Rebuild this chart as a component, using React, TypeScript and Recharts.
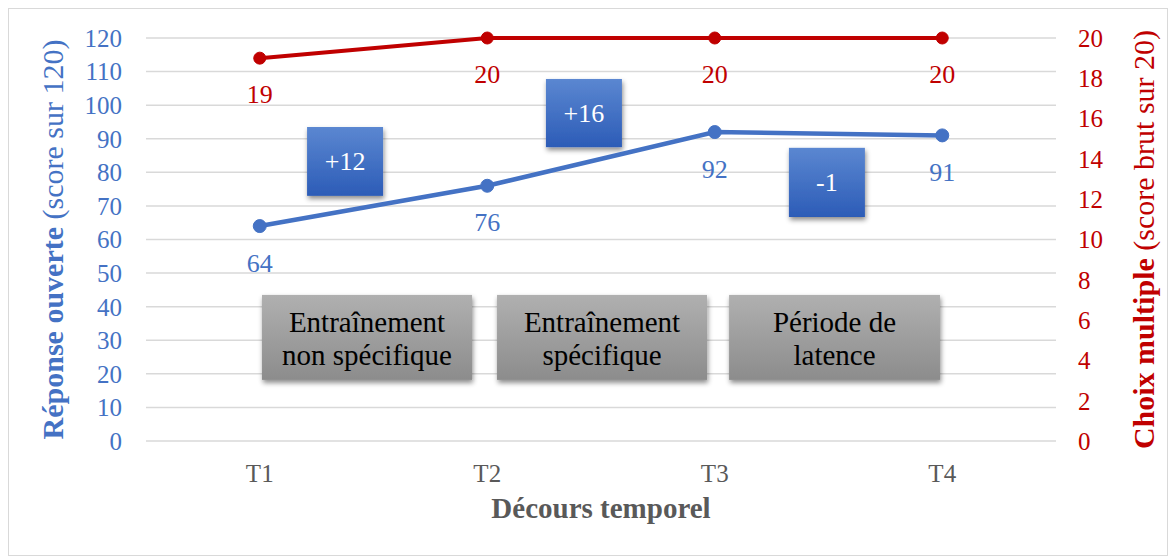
import React from 'react';
import { LineChart, Line, XAxis, YAxis, CartesianGrid, ReferenceArea } from 'recharts';

// ---- data ----
const categories = ['T1', 'T2', 'T3', 'T4'];
const openScores = [64, 76, 92, 91];
const mcqScores = [19, 20, 20, 20];
const leftTicks = [0, 10, 20, 30, 40, 50, 60, 70, 80, 90, 100, 110, 120];
const rightTicks = [0, 2, 4, 6, 8, 10, 12, 14, 16, 18, 20];
const gainLabels = ['+12', '+16', '-1'];
const phaseLabels = [
  ['Entraînement', 'non spécifique'],
  ['Entraînement', 'spécifique'],
  ['Période de', 'latence'],
];

const data = categories.map((t, i) => ({ t, open: openScores[i], mcq: mcqScores[i] }));

// ---- layout (positions in axis units; x: 0 = T1 ... 3 = T4) ----
const gainX = [[0.208, 0.542], [1.258, 1.592], [2.326, 2.66]];
const gainY = [[73.0, 93.5], [87.5, 107.8], [66.7, 87.3]];
const phaseX = [[0.01, 0.933], [1.043, 1.966], [2.063, 2.99]];
const phaseY = [18.2, 43.5];

const BLUE = '#4472C4';
const RED = '#C00000';
const GREY = '#595959';
const FONT = '"Liberation Serif", "Times New Roman", serif';
const FS = 25;
const PAD = 113.75;
const serif = { fontFamily: FONT };

const Defs = () => (
  <defs>
    <linearGradient id="blueGrad" x1="0" y1="0" x2="0" y2="1">
      <stop offset="0%" stopColor="#5B87D1" />
      <stop offset="100%" stopColor="#2C5CB7" />
    </linearGradient>
    <linearGradient id="greyGrad" x1="0" y1="0" x2="0" y2="1">
      <stop offset="0%" stopColor="#B0B0B0" />
      <stop offset="100%" stopColor="#8C8C8C" />
    </linearGradient>
    <filter id="boxShadow" x="-20%" y="-20%" width="140%" height="150%">
      <feDropShadow dx="1" dy="3" stdDeviation="2.5" floodColor="#000" floodOpacity="0.45" />
    </filter>
  </defs>
);

const gainShape = (label: string) => (props: any) => {
  const { x, y, width, height } = props;
  return (
    <g>
      <Defs />
      <rect x={x} y={y} width={width} height={height} fill="url(#blueGrad)" filter="url(#boxShadow)" />
      <text x={x + width / 2} y={y + height / 2} textAnchor="middle" dominantBaseline="central"
        fill="#fff" fontSize={26} fontFamily={FONT} style={serif}>{label}</text>
    </g>
  );
};

const phaseShape = (lines: string[]) => (props: any) => {
  const { x, y, width, height } = props;
  const cx = x + width / 2;
  const cy = y + height / 2;
  return (
    <g>
      <Defs />
      <rect x={x} y={y} width={width} height={height} fill="url(#greyGrad)" filter="url(#boxShadow)" />
      <text textAnchor="middle" fill="#000" fontSize={29} fontFamily={FONT} style={serif}>
        <tspan x={cx} y={cy - 15} dominantBaseline="central">{lines[0]}</tspan>
        <tspan x={cx} y={cy + 18} dominantBaseline="central">{lines[1]}</tspan>
      </text>
    </g>
  );
};

const pointLabel = (color: string, off: number) => (props: any) => {
  const { x, y, value, index } = props;
  return (
    <text key={`l-${color}-${index}`} x={x} y={y + off} textAnchor="middle" dominantBaseline="central"
      fill={color} fontSize={26} fontFamily={FONT} style={serif}>{value}</text>
  );
};

export default function App() {
  return (
    <div style={{ width: 1158, height: 546, border: '1px solid #D9D9D9', background: '#fff', fontFamily: FONT }}>
      <LineChart width={1158} height={546} data={data} margin={{ top: 29, right: 0, bottom: 0, left: 0 }}
        style={serif}>
        <CartesianGrid vertical={false} stroke="#D9D9D9" strokeWidth={1.5} yAxisId="left" />
        <XAxis dataKey="t" xAxisId="cat" height={114} axisLine={false} tickLine={false} tickSize={0}
          tickMargin={23} padding={{ left: PAD, right: PAD }}
          tick={{ fill: GREY, fontSize: FS, fontFamily: FONT }}
          label={{
            content: (p: any) => {
              const vb = p.viewBox;
              return (
                <text x={vb.x + vb.width / 2} y={vb.y + 77} textAnchor="middle" fill={GREY}
                  fontSize={29} fontWeight="bold" fontFamily={FONT} style={serif}>Décours temporel</text>
              );
            },
          }} />
        <XAxis xAxisId="num" type="number" domain={[0, 3]} hide allowDataOverflow
          padding={{ left: PAD, right: PAD }} />
        <YAxis yAxisId="left" orientation="left" width={137} domain={[0, 120]} ticks={leftTicks}
          interval={0} axisLine={false} tickLine={false} tickSize={0} tickMargin={24}
          tick={{ fill: BLUE, fontSize: FS, fontFamily: FONT }}
          label={{
            content: (p: any) => {
              const vb = p.viewBox;
              const cx = vb.x + 43;
              const cy = vb.y + vb.height / 2;
              return (
                <text x={cx} y={cy} transform={`rotate(-90 ${cx} ${cy})`} textAnchor="middle"
                  dominantBaseline="central" fill={BLUE} fontSize={30} fontFamily={FONT} style={serif}>
                  <tspan fontWeight="bold">Réponse ouverte</tspan>
                  <tspan> (score sur 120)</tspan>
                </text>
              );
            },
          }} />
        <YAxis yAxisId="right" orientation="right" width={111} domain={[0, 20]} ticks={rightTicks}
          interval={0} axisLine={false} tickLine={false} tickSize={0} tickMargin={22}
          tick={{ fill: RED, fontSize: FS, fontFamily: FONT }}
          label={{
            content: (p: any) => {
              const vb = p.viewBox;
              const cx = vb.x + 87;
              const cy = vb.y + vb.height / 2;
              return (
                <text x={cx} y={cy} transform={`rotate(-90 ${cx} ${cy})`} textAnchor="middle"
                  dominantBaseline="central" fill={RED} fontSize={30} fontFamily={FONT} style={serif}>
                  <tspan fontWeight="bold">Choix multiple</tspan>
                  <tspan> (score brut sur 20)</tspan>
                </text>
              );
            },
          }} />
        {phaseLabels.map((lines, i) => (
          <ReferenceArea key={`p${i}`} xAxisId="num" yAxisId="left" x1={phaseX[i][0]} x2={phaseX[i][1]}
            y1={phaseY[0]} y2={phaseY[1]} ifOverflow="visible" shape={phaseShape(lines)} />
        ))}
        {gainLabels.map((g, i) => (
          <ReferenceArea key={`g${i}`} xAxisId="num" yAxisId="left" x1={gainX[i][0]} x2={gainX[i][1]}
            y1={gainY[i][0]} y2={gainY[i][1]} ifOverflow="visible" shape={gainShape(g)} />
        ))}
        <Line xAxisId="cat" yAxisId="left" dataKey="open" stroke={BLUE} strokeWidth={4.5}
          dot={{ r: 6.5, fill: BLUE, stroke: BLUE, strokeWidth: 1 }} activeDot={false}
          isAnimationActive={false} label={pointLabel(BLUE, 37)} />
        <Line xAxisId="cat" yAxisId="right" dataKey="mcq" stroke={RED} strokeWidth={4}
          dot={{ r: 6, fill: RED, stroke: RED, strokeWidth: 1 }} activeDot={false}
          isAnimationActive={false} label={pointLabel(RED, 36)} />
      </LineChart>
    </div>
  );
}
